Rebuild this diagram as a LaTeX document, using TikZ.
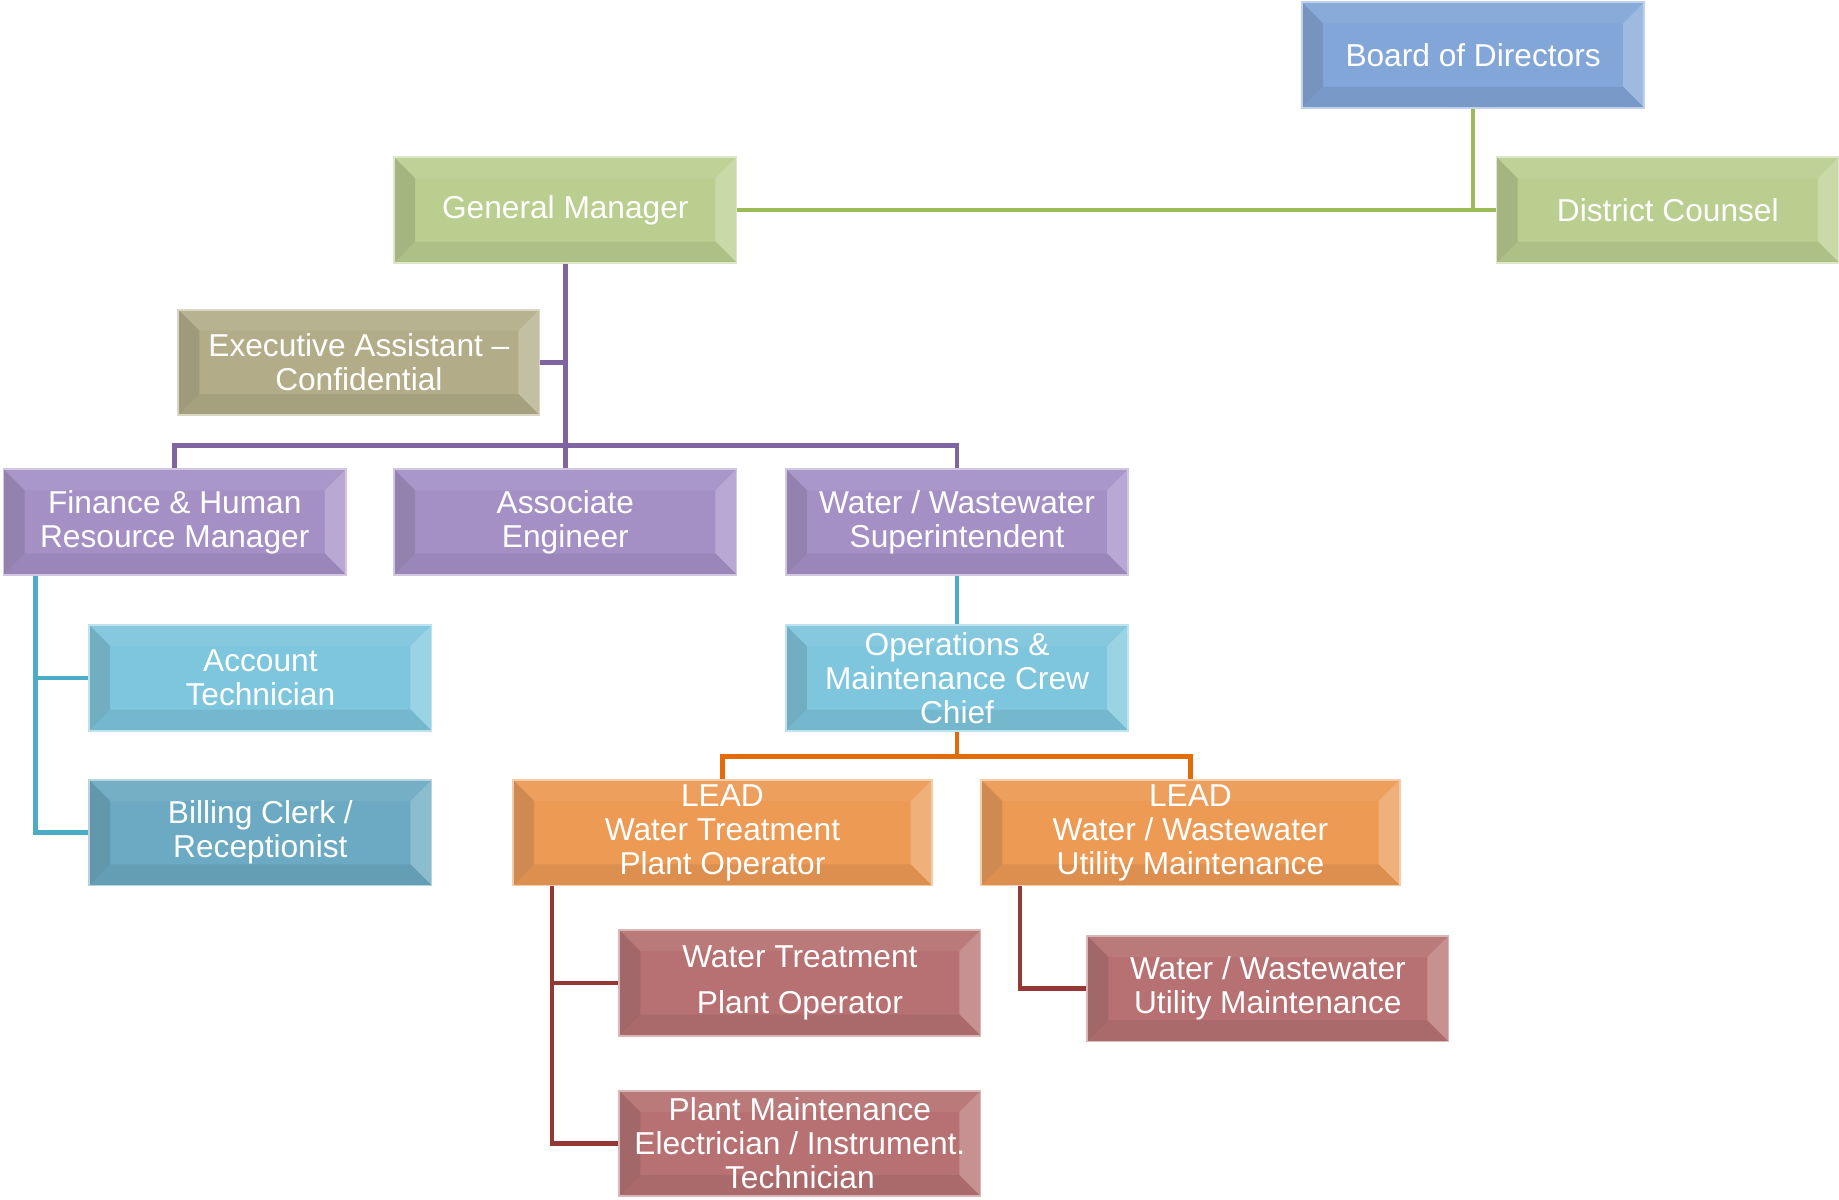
\documentclass[tikz,border=0pt]{standalone}
\usepackage{fontspec}
\setmainfont{Liberation Sans}
\usetikzlibrary{calc}

\definecolor{boardblue}{HTML}{82A6D8}
\definecolor{leafgreen}{HTML}{BACE90}
\definecolor{khaki}{HTML}{B2AD88}
\definecolor{violetbox}{HTML}{A590C6}
\definecolor{skybox}{HTML}{7EC6DD}
\definecolor{tealbox}{HTML}{6BAAC2}
\definecolor{orangebox}{HTML}{EC9A54}
\definecolor{rosebox}{HTML}{B77172}
\definecolor{linegreen}{HTML}{9BBB59}
\definecolor{lineviolet}{HTML}{8064A2}
\definecolor{lineblue}{HTML}{4BACC6}
\definecolor{lineorange}{HTML}{E36C09}
\definecolor{linered}{HTML}{953735}

\newcommand{\bevw}{18pt}

\begin{document}
\begin{tikzpicture}[
    x=1pt, y=-1pt,
    box/.style={rectangle, draw=#1!50!white, line width=1.5pt, fill=#1,
        minimum height=90pt, minimum width=292pt, inner sep=0pt,
        text=white, align=center, font=\fontsize{27}{29}\selectfont,
        path picture={
            \fill[#1!94!white] (path picture bounding box.north west) -- (path picture bounding box.north east)
                -- ++(-\bevw,-\bevw) -- ($(path picture bounding box.north west)+(\bevw,-\bevw)$) -- cycle;
            \fill[#1!78!white] (path picture bounding box.north east) -- (path picture bounding box.south east)
                -- ++(-\bevw,\bevw) -- ($(path picture bounding box.north east)+(-\bevw,-\bevw)$) -- cycle;
            \fill[#1!93!black] (path picture bounding box.south east) -- (path picture bounding box.south west)
                -- ++(\bevw,\bevw) -- ($(path picture bounding box.south east)+(-\bevw,\bevw)$) -- cycle;
            \fill[#1!90!black!92!gray] (path picture bounding box.south west) -- (path picture bounding box.north west)
                -- ++(\bevw,-\bevw) -- ($(path picture bounding box.south west)+(\bevw,\bevw)$) -- cycle;
        }},
    wide/.style={minimum width=308pt},
    wider/.style={minimum width=357pt},
    link/.style={line width=4pt, draw=#1}
]
\useasboundingbox (0,0) rectangle (1568,1023);

% top level
\node[box=boardblue] (board) at (1256,47) {Board of Directors};
\node[box=leafgreen] (counsel) at (1422,179) {District Counsel};
\node[box=leafgreen] (gm) at (482,179) {General Manager};
\node[box=khaki, wide] (exec) at (306,309) {Executive Assistant {--}\\Confidential};

% managers
\node[box=violetbox] (finance) at (149,445) {Finance \& Human\\Resource Manager};
\node[box=violetbox] (assoc) at (482,445) {Associate\\Engineer};
\node[box=violetbox] (super) at (816,445) {Water / Wastewater\\Superintendent};

% staff
\node[box=skybox] (acct) at (222,578) {Account\\Technician};
\node[box=tealbox] (billing) at (222,710) {Billing Clerk /\\Receptionist};
\node[box=skybox] (crew) at (816,578) {Operations \&\\Maintenance Crew\\Chief};
\node[box=orangebox, wider] (leadwtp) at (616,710) {LEAD\\Water Treatment\\Plant Operator};
\node[box=orangebox, wider] (leadutil) at (1015,710) {LEAD\\Water / Wastewater\\Utility Maintenance};
\node[box=rosebox, wide] (wtp) at (682,838) {Water Treatment\\[10pt]Plant Operator};
\node[box=rosebox, wide] (pm) at (682,975) {Plant Maintenance\\Electrician / Instrument.\\Technician};
\node[box=rosebox, wide] (util) at (1081,843) {Water / Wastewater\\Utility Maintenance};

% connectors
\draw[link=linegreen] (board.south) -- (board.south |- counsel.west);
\draw[link=linegreen] (gm.east) -- (counsel.west);

\coordinate (vbus) at (0,380);
\draw[link=lineviolet] (gm.south) -- (assoc.north);
\draw[link=lineviolet] (exec.east) -- (exec.east -| gm.south);
\draw[link=lineviolet] (finance.north) |- (vbus -| assoc.north) -| (super.north);

\coordinate (fspine) at ($(finance.south west)+(28pt,0)$);
\draw[link=lineblue] (fspine) |- (billing.west);
\draw[link=lineblue] (fspine |- acct.west) -- (acct.west);
\draw[link=lineblue] (super.south) -- (crew.north);

\coordinate (obus) at (816,645);
\draw[link=lineorange] (crew.south) -- (obus);
\draw[link=lineorange] (leadwtp.north) |- (obus) -| (leadutil.north);

\coordinate (wspine) at ($(leadwtp.south west)+(34pt,0)$);
\draw[link=linered] (wspine) |- (pm.west);
\draw[link=linered] (wspine |- wtp.west) -- (wtp.west);
\coordinate (uspine) at ($(leadutil.south west)+(34pt,0)$);
\draw[link=linered] (uspine) |- (util.west);
\end{tikzpicture}
\end{document}
